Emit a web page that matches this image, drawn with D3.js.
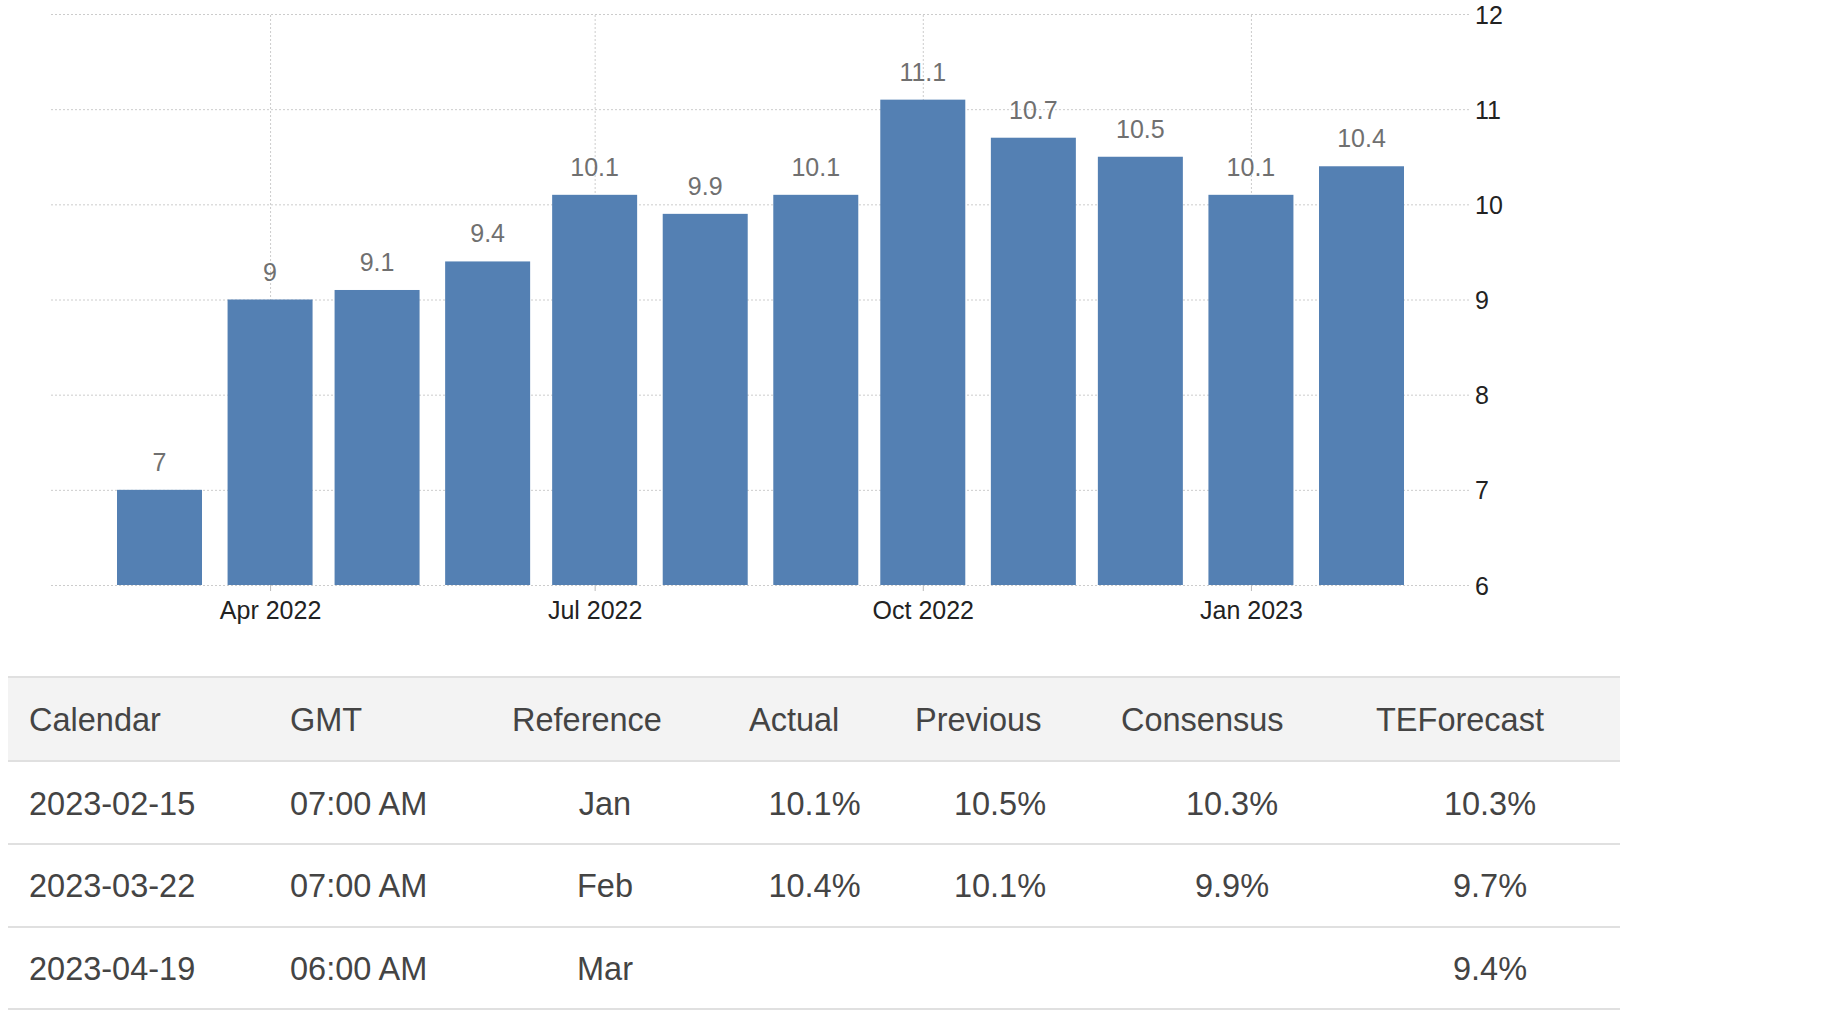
<!DOCTYPE html>
<html><head><meta charset="utf-8">
<script src="https://cdn.jsdelivr.net/npm/d3@7"></script>
<style>
html,body{margin:0;padding:0;background:#fff;}
svg{display:block;}
</style></head><body>
<svg id="chart" width="1834" height="1016"></svg>
<script>
// ---- data ----
const months = ["2022-03","2022-04","2022-05","2022-06","2022-07","2022-08","2022-09","2022-10","2022-11","2022-12","2023-01","2023-02"];
const values = [7, 9, 9.1, 9.4, 10.1, 9.9, 10.1, 11.1, 10.7, 10.5, 10.1, 10.4];
const yTicks = [6, 7, 8, 9, 10, 11, 12];
const xTickMonths = ["2022-04","2022-07","2022-10","2023-01"];
const xTickLabels = ["Apr 2022","Jul 2022","Oct 2022","Jan 2023"];

const tableHeaders = ["Calendar","GMT","Reference","Actual","Previous","Consensus","TEForecast"];
const calendarDates = ["2023-02-15","2023-03-22","2023-04-19"];
const gmtTimes = ["07:00 AM","07:00 AM","06:00 AM"];
const referencePeriods = ["Jan","Feb","Mar"];
const actualValues = ["10.1%","10.4%",""];
const previousValues = ["10.5%","10.1%",""];
const consensusValues = ["10.3%","9.9%",""];
const teForecastValues = ["10.3%","9.7%","9.4%"];

// ---- layout ----
const svg = d3.select("#chart");
const plotLeft = 51, plotRight = 1469, plotTop = 14, plotBottom = 585;
const barWidth = 85;
const chartFont = "'Liberation Sans', Arial, sans-serif";
const chartFontSize = 25;
const parseMonth = s => { const [y, m] = s.split("-").map(Number); return new Date(Date.UTC(y, m - 1, 1)); };

const x = d3.scaleUtc()
  .domain([parseMonth(months[0]), parseMonth(months[months.length - 1])])
  .range([159.5, 1361.5]);
const y = d3.scaleLinear().domain([6, 12]).range([plotBottom, plotTop]);

const gridColor = "#cccccc";

// horizontal grid + right labels
const yAxisG = svg.append("g")
  .attr("transform", `translate(${plotRight},0)`)
  .call(d3.axisRight(y).tickValues(yTicks).tickSize(-(plotRight - plotLeft)).tickPadding(6).tickFormat(d3.format("d")));
yAxisG.select(".domain").remove();
yAxisG.selectAll(".tick line").attr("stroke", gridColor).attr("stroke-dasharray", "2,2");
yAxisG.selectAll(".tick text")
  .attr("font-family", chartFont).attr("font-size", chartFontSize).attr("fill", "#222")
  .attr("dy", "0.36em");

// vertical grid
const tickDates = xTickMonths.map(parseMonth);
const xGrid = svg.append("g")
  .attr("transform", `translate(0,${plotBottom})`)
  .call(d3.axisBottom(x).tickValues(tickDates).tickSize(-(plotBottom - plotTop)).tickFormat(""));
xGrid.select(".domain").remove();
xGrid.selectAll(".tick line").attr("stroke", gridColor).attr("stroke-dasharray", "2,2");

// bars
svg.append("g").selectAll("rect")
  .data(values)
  .join("rect")
  .attr("x", (d, i) => x(parseMonth(months[i])) - barWidth / 2)
  .attr("width", barWidth)
  .attr("y", d => y(d))
  .attr("height", d => y(6) - y(d))
  .attr("fill", "#5480b3");

// data labels
svg.append("g").selectAll("text")
  .data(values)
  .join("text")
  .attr("x", (d, i) => x(parseMonth(months[i])))
  .attr("y", d => y(d) - 19)
  .attr("text-anchor", "middle")
  .attr("font-family", chartFont).attr("font-size", chartFontSize)
  .attr("fill", "#707070")
  .text(d => d);

// x axis ticks + labels
const xAxisG = svg.append("g")
  .attr("transform", `translate(0,${plotBottom})`)
  .call(d3.axisBottom(x).tickValues(tickDates).tickSize(6).tickPadding(10)
    .tickFormat((d, i) => xTickLabels[i]));
xAxisG.select(".domain").remove();
xAxisG.selectAll(".tick line").attr("stroke", "#bbb");
xAxisG.selectAll(".tick text")
  .attr("font-family", chartFont).attr("font-size", chartFontSize).attr("fill", "#222");

// ---- table ----
const tableLeft = 8, tableRight = 1620;
const rowLines = [677, 761, 844, 927, 1009];
const headerBaseline = 731;
const rowBaselines = [815, 897, 980];
const tableFont = "'Liberation Sans', Arial, sans-serif";
const tableFontSize = 32.5;
const textColor = "#444444";

const tbl = svg.append("g");
tbl.append("rect")
  .attr("x", tableLeft).attr("y", rowLines[0])
  .attr("width", tableRight - tableLeft).attr("height", rowLines[1] - rowLines[0])
  .attr("fill", "#f3f3f3");
tbl.selectAll("line.row")
  .data(rowLines)
  .join("line")
  .attr("x1", tableLeft).attr("x2", tableRight)
  .attr("y1", d => d).attr("y2", d => d)
  .attr("stroke", "#e0e0e0").attr("stroke-width", 2);

const headerX = [29, 290, 512, 749, 915, 1121, 1376];
tbl.selectAll("text.hdr")
  .data(tableHeaders)
  .join("text")
  .attr("x", (d, i) => headerX[i]).attr("y", headerBaseline)
  .attr("font-family", tableFont).attr("font-size", tableFontSize)
  .attr("fill", textColor)
  .text(d => d);

const columns = [
  { vals: calendarDates, x: 29, anchor: "start" },
  { vals: gmtTimes, x: 290, anchor: "start" },
  { vals: referencePeriods, x: 605, anchor: "middle" },
  { vals: actualValues, x: 814.5, anchor: "middle" },
  { vals: previousValues, x: 1000, anchor: "middle" },
  { vals: consensusValues, x: 1232, anchor: "middle" },
  { vals: teForecastValues, x: 1490, anchor: "middle" }
];
columns.forEach(col => {
  tbl.append("g").selectAll("text")
    .data(col.vals)
    .join("text")
    .attr("x", col.x).attr("y", (d, i) => rowBaselines[i])
    .attr("text-anchor", col.anchor)
    .attr("font-family", tableFont).attr("font-size", tableFontSize)
    .attr("fill", textColor)
    .text(d => d);
});
</script>
</body></html>
